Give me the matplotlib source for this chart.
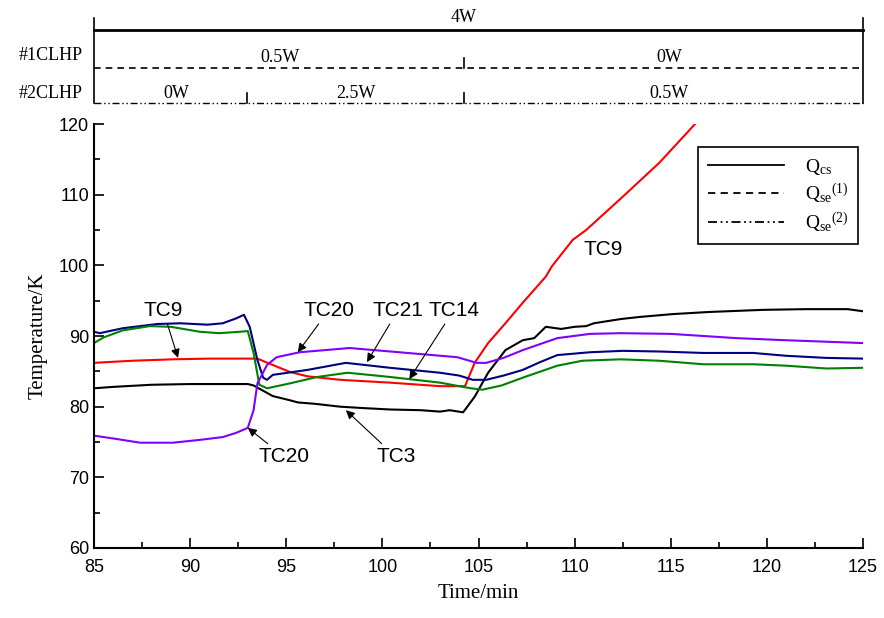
import numpy as np
import matplotlib
matplotlib.use("Agg")
import matplotlib.pyplot as plt
from matplotlib.lines import Line2D
from matplotlib.ticker import MultipleLocator

plt.rcParams['font.family'] = ['Liberation Sans', 'DejaVu Sans']
plt.rcParams['mathtext.fontset'] = 'custom'
plt.rcParams['mathtext.rm'] = 'Liberation Serif'
plt.rcParams['mathtext.it'] = 'Liberation Serif:italic'

# TC3 (black)
t_tc3 = [85, 86, 88, 90, 92, 93, 93.3, 94.3, 95.2, 95.6, 96.5, 97.8, 99, 100.4, 102, 103,
         103.5, 104.2, 104.8, 105.5, 106.4, 107.3, 107.9, 108.5, 109.3, 110, 110.6, 111,
         112.4, 113.4, 115.1, 117, 119.8, 122, 124.2, 125]
T_tc3 = [82.6, 82.8, 83.1, 83.2, 83.2, 83.2, 83.0, 81.5, 80.9, 80.6, 80.4, 80.0, 79.8, 79.6, 79.5, 79.3,
         79.5, 79.2, 81.4, 84.8, 88.0, 89.4, 89.7, 91.3, 91.0, 91.3, 91.4, 91.8,
         92.4, 92.7, 93.1, 93.4, 93.7, 93.8, 93.8, 93.5]

# TC9 (red)
t_tc9 = [85, 87, 89.1, 91, 93.1, 93.5, 94.3, 95.2, 96.1, 97.8, 100.4, 103, 104.3,
         104.8, 105.5, 106.4, 107.3, 108.5, 108.8, 109.9, 110.6, 112.5, 114.4, 116.3]
T_tc9 = [86.2, 86.5, 86.7, 86.8, 86.8, 86.8, 85.9, 84.9, 84.3, 83.8, 83.4, 82.9, 82.9,
         86.2, 89.0, 91.8, 94.7, 98.4, 99.8, 103.6, 105.0, 109.7, 114.5, 120.1]

# TC21 (navy)
t_tc21 = [85, 85.3, 86.5, 88.3, 89.5, 90.9, 91.7, 92.4, 92.8, 93.1, 93.5, 93.8, 94.0, 94.3,
          96.1, 98.1, 100.4, 103, 104, 104.7, 105.4, 106.3, 107.3, 108.2, 109.1, 110.8,
          112.5, 114.5, 116.7, 119.3, 121, 123.1, 125]
T_tc21 = [90.6, 90.4, 91.1, 91.7, 91.8, 91.6, 91.8, 92.5, 93.0, 91.3, 86.6, 84.1, 83.8, 84.5,
          85.2, 86.2, 85.5, 84.8, 84.4, 83.8, 83.8, 84.4, 85.2, 86.3, 87.3, 87.7,
          87.9, 87.8, 87.6, 87.6, 87.2, 86.9, 86.8]

# TC14 (green)
t_tc14 = [85, 85.5, 86.5, 87.9, 89, 90.5, 91.5, 92.6, 93.0, 93.3, 93.6, 94.0, 95.2, 96.6,
          98.2, 100.4, 103, 104.6, 105.2, 106.2, 107.3, 109.1, 110.4, 112.4, 114.4,
          116.7, 119.3, 121, 123.1, 125]
T_tc14 = [89.0, 89.8, 90.8, 91.4, 91.3, 90.6, 90.4, 90.6, 90.7, 87.6, 83.1, 82.6, 83.3, 84.2,
          84.8, 84.2, 83.4, 82.6, 82.4, 83.0, 84.1, 85.8, 86.5, 86.7, 86.5,
          86.0, 86.0, 85.8, 85.4, 85.5]

# TC20 (violet)
t_tc20 = [85, 86, 87.4, 89.1, 90.5, 91.7, 92.4, 93.0, 93.3, 93.5, 94.0, 94.5, 95.7, 98.3,
          101.3, 103.9, 104.9, 105.4, 106.3, 107.3, 109.1, 110.8, 112.4, 115, 118.4, 121, 125]
T_tc20 = [75.9, 75.5, 74.9, 74.9, 75.3, 75.7, 76.3, 77.0, 79.5, 83.3, 85.9, 87.0, 87.7, 88.3,
          87.6, 87.0, 86.2, 86.2, 86.9, 88.0, 89.7, 90.3, 90.4, 90.3, 89.7, 89.4, 89.0]

fig = plt.figure(figsize=(8.84, 6.18), dpi=100)
ax = fig.add_axes([94/884, 70/618, 769/884, 424/618])

ax.plot(t_tc3, T_tc3, color='black', lw=1.5)
ax.plot(t_tc9, T_tc9, color='#ff0000', lw=1.5)
ax.plot(t_tc21, T_tc21, color='#000080', lw=1.5)
ax.plot(t_tc14, T_tc14, color='#008000', lw=1.5)
ax.plot(t_tc20, T_tc20, color='#8000ff', lw=1.5)

ax.set_xlim(85, 125)
ax.set_ylim(60, 120)
ax.xaxis.set_major_locator(MultipleLocator(5))
ax.xaxis.set_minor_locator(MultipleLocator(2.5))
ax.yaxis.set_major_locator(MultipleLocator(10))
ax.yaxis.set_minor_locator(MultipleLocator(5))
ax.tick_params(which='both', direction='in', width=1.2, labelsize=13)
ax.tick_params(which='major', length=7)
ax.tick_params(which='minor', length=4)
ax.tick_params(axis='x', pad=8)
ax.spines['top'].set_visible(False)
ax.spines['right'].set_visible(False)
ax.spines['left'].set_linewidth(1.5)
ax.spines['bottom'].set_linewidth(1.5)
ax.set_xlabel('Time/min', family='Liberation Serif', fontsize=15, labelpad=6)
ax.set_ylabel('Temperature/K', family='Liberation Serif', fontsize=15, labelpad=8)

arr = dict(arrowstyle='-|>', color='black', lw=0.8, mutation_scale=13, shrinkA=1, shrinkB=0)
ax.annotate('TC9', xy=(89.37, 86.9), xytext=(88.6, 93.6), ha='center', va='center', fontsize=15, arrowprops=arr)
ax.annotate('TC20', xy=(95.6, 87.7), xytext=(97.2, 93.6), ha='center', va='center', fontsize=15, arrowprops=arr)
ax.annotate('TC21', xy=(99.2, 86.3), xytext=(100.8, 93.6), ha='center', va='center', fontsize=15, arrowprops=arr)
ax.annotate('TC14', xy=(101.4, 83.9), xytext=(103.7, 93.6), ha='center', va='center', fontsize=15, arrowprops=arr)
ax.annotate('TC20', xy=(93.0, 77.0), xytext=(94.9, 72.9), ha='center', va='center', fontsize=15, arrowprops=arr)
ax.annotate('TC3', xy=(98.1, 79.5), xytext=(100.7, 72.9), ha='center', va='center', fontsize=15, arrowprops=arr)
ax.text(111.5, 102.2, 'TC9', ha='center', va='center', fontsize=15)

dashdotdot = (0, (5, 2, 1, 2, 1, 2))
handles = [Line2D([], [], color='black', lw=1.3, ls='-'),
           Line2D([], [], color='black', lw=1.3, ls=(0, (4, 3))),
           Line2D([], [], color='black', lw=1.3, ls=dashdotdot)]
labels = [r'Q$_{\mathrm{cs}}$', r'Q$_{\mathrm{se}}{}^{(1)}$', r'Q$_{\mathrm{se}}{}^{(2)}$']
leg = ax.legend(handles, labels, loc='upper right', bbox_to_anchor=(0.994, 0.946),
                prop={'family': 'Liberation Serif', 'size': 14}, handlelength=3.9,
                handletextpad=1.1, labelspacing=0.25, borderpad=0.5, fancybox=False,
                framealpha=1, edgecolor='black', borderaxespad=0)
leg.get_frame().set_linewidth(1.2)

# top heat-load panel, y in pixel units
top = fig.add_axes([94/884, (618-110)/618, 769/884, 100/618])
top.set_xlim(85, 125)
top.set_ylim(110, 10)
top.axis('off')
top.plot([85, 85], [18, 103], color='black', lw=1.2, clip_on=False)
top.plot([125, 125], [18, 103], color='black', lw=1.2, clip_on=False)
top.plot([85, 125], [30, 30], color='black', lw=2.0, clip_on=False)
top.plot([85, 125], [68, 68], color='black', lw=1.2, ls=(0, (4, 3)), clip_on=False)
top.plot([85, 125], [103, 103], color='black', lw=1.0, ls=dashdotdot, clip_on=False)
top.plot([104.25, 104.25], [58, 68], color='black', lw=1.2)
top.plot([104.25, 104.25], [93, 103], color='black', lw=1.2)
top.plot([92.96, 92.96], [93, 103], color='black', lw=1.2)

sf = dict(family='Liberation Serif', fontsize=13, ha='center', va='center')
top.text(104.25, 18, '4W', **sf)
top.text(94.7, 58, '0.5W', **sf)
top.text(114.9, 58, '0W', **sf)
top.text(89.3, 93, '0W', **sf)
top.text(98.6, 93, '2.5W', **sf)
top.text(114.9, 93, '0.5W', **sf)
top.text(84.4, 55, '#1CLHP', family='Liberation Serif', fontsize=13, ha='right', va='center')
top.text(84.4, 93, '#2CLHP', family='Liberation Serif', fontsize=13, ha='right', va='center')

plt.savefig('out.png', dpi=100)
plt.close()
